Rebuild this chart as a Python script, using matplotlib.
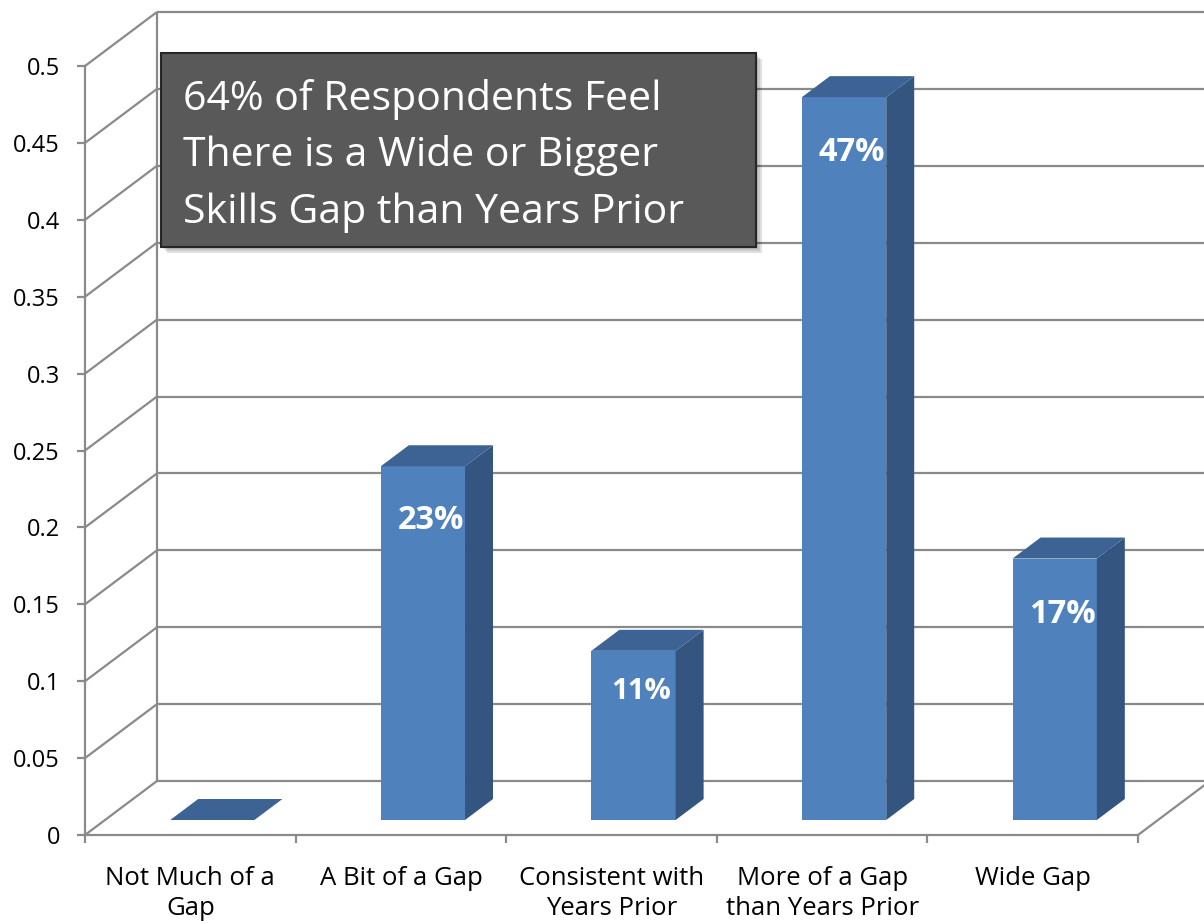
import matplotlib.pyplot as plt
from matplotlib.patches import Polygon, Rectangle
from matplotlib.ticker import FuncFormatter

plt.rcParams['font.family'] = ['Open Sans', 'DejaVu Sans']

# data
categories = ["Not Much of a\nGap", "A Bit of a Gap", "Consistent with\nYears Prior",
              "More of a Gap\nthan Years Prior", "Wide Gap"]
values = [0.0, 0.23, 0.11, 0.47, 0.17]
value_labels = ["", "23%", "11%", "47%", "17%"]
y_ticks = [0, 0.05, 0.1, 0.15, 0.2, 0.25, 0.3, 0.35, 0.4, 0.45, 0.5]
callout = ["64% of Respondents Feel", "There is a Wide or Bigger", "Skills Gap than Years Prior"]

W, H = 1204, 924
FRONT = '#4F81BD'
SIDE = '#34557F'
TOP = '#3C6393'
GRID = '#8A8A8A'

fig = plt.figure(figsize=(W / 100, H / 100), dpi=100)
# front plane of the 3d box, in pixels
ax = fig.add_axes([85 / W, (H - 835) / H, (1138 - 85) / W, (835 - 66) / H])
ax.set_xlim(-0.5, 4.5)
ax.set_ylim(0, 0.5)
ax.patch.set_visible(False)


def px(dx, dy):
    # pixel offset -> data offset
    x0, y0 = ax.transData.transform((0, 0))
    x1, y1 = ax.transData.inverted().transform((x0 + dx, y0 + dy))
    return x1, y1


wx, wy = px(72, 54)      # depth of the back wall
sx, sy = px(22, 15)      # bar shift into the box
dx, dy = px(28, 21)      # bar depth
bw = 0.4

# walls and gridlines
line_kw = dict(color=GRID, lw=1.6, clip_on=False, zorder=1, solid_capstyle='butt')
for t in y_ticks:
    ax.plot([-0.5, -0.5 + wx], [t, t + wy], **line_kw)
    ax.plot([-0.5 + wx, 4.5 + wx], [t + wy, t + wy], **line_kw)
ax.plot([-0.5 + wx, -0.5 + wx], [wy, 0.5 + wy], **line_kw)
ax.plot([4.5, 4.5 + wx], [0, wy], **line_kw)

# bars
xs = list(range(len(values)))
ax.bar([x + sx for x in xs], values, width=bw, bottom=sy, color=FRONT, zorder=3)
for x, v in zip(xs, values):
    l, r = x + sx - bw / 2, x + sx + bw / 2
    top = sy + v
    ax.add_patch(Polygon([(r, sy), (r, top), (r + dx, top + dy), (r + dx, sy + dy)],
                         closed=True, color=SIDE, zorder=3, lw=0))
    ax.add_patch(Polygon([(l, top), (r, top), (r + dx, top + dy), (l + dx, top + dy)],
                         closed=True, color=TOP, zorder=3, lw=0))

# value labels inside the bars
label_drop = [0, 54, 41, 55, 56]
label_size = [23.5, 23.5, 21, 23.5, 23.5]
for x, v, lab, drop, fs in zip(xs, values, value_labels, label_drop, label_size):
    if lab:
        ax.annotate(lab, (x + sx, sy + v), xytext=(8, -drop), textcoords='offset pixels',
                    ha='center', va='center', color='white', fontsize=fs,
                    fontweight='bold', zorder=5)

# axes styling
for s in ['top', 'right']:
    ax.spines[s].set_visible(False)
for s in ['left', 'bottom']:
    ax.spines[s].set_color(GRID)
    ax.spines[s].set_linewidth(1.6)
ax.set_yticks(y_ticks)
ax.yaxis.set_major_formatter(FuncFormatter(lambda v, p: '%g' % v))
ax.tick_params(axis='y', direction='out', length=6, width=1.6, color=GRID,
               labelsize=17, pad=12)
ax.set_xticks(xs)
ax.set_xticklabels(categories, linespacing=1.3)
ax.set_xticks([x - 0.5 for x in range(len(values) + 1)], minor=True)
ax.tick_params(axis='x', which='major', length=0, labelsize=18.5, pad=22)
ax.tick_params(axis='x', which='minor', direction='out', length=6, width=1.6, color=GRID)

# callout box
bx0, by0, bx1, by1 = 161, 53, 756, 247
for i, a in enumerate([0.10, 0.10, 0.12]):
    off = 2 + 2 * i
    fig.patches.append(Rectangle(((bx0 + off) / W, (H - by1 - off) / H),
                                 (bx1 - bx0) / W, (by1 - by0) / H,
                                 transform=fig.transFigure, color='black', alpha=a,
                                 lw=0, zorder=8))
fig.patches.append(Rectangle((bx0 / W, (H - by1) / H), (bx1 - bx0) / W, (by1 - by0) / H,
                             transform=fig.transFigure, facecolor='#595959',
                             edgecolor='#262626', lw=1.5, zorder=9))
for i, line in enumerate(callout):
    fig.text(183 / W, (H - 110 - 56.5 * i) / H, line, color='white', fontsize=29.5,
             ha='left', va='baseline', zorder=10)

fig.savefig('out.png', dpi=100)
